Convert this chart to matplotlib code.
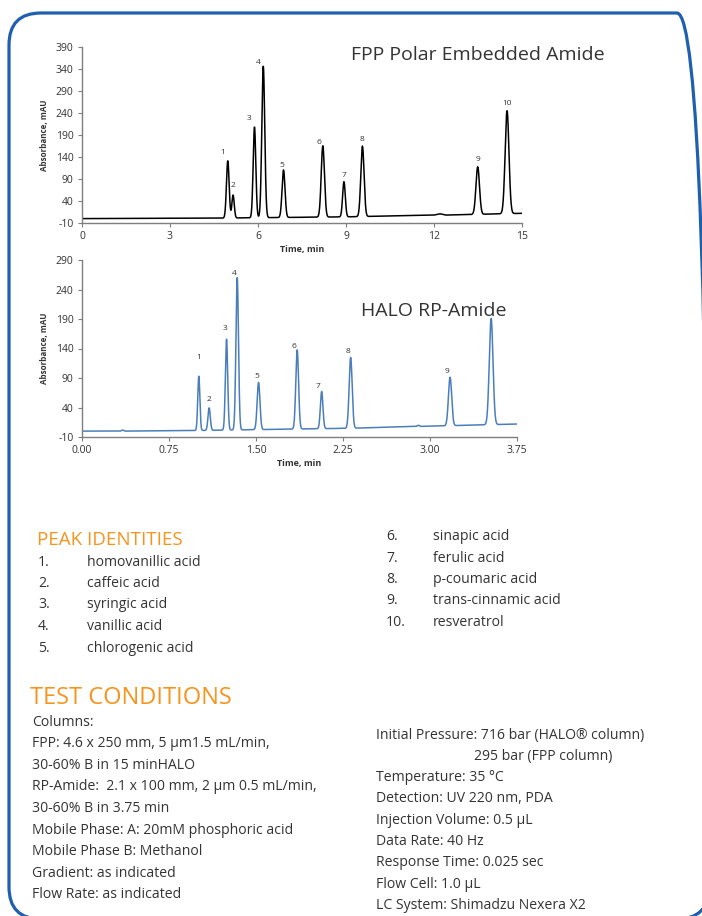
import matplotlib.pyplot as plt
import numpy as np
from matplotlib.patches import FancyBboxPatch

plt.rcParams['font.family'] = ['Open Sans', 'DejaVu Sans']
plt.rcParams['axes.unicode_minus'] = False

# peak tables (time in min, height in mAU)
fpp_times = [4.97, 5.15, 5.88, 6.18, 6.87, 8.21, 8.93, 9.56, 13.49, 14.49]
fpp_heights = [130, 52, 206, 344, 108, 162, 80, 160, 108, 234]
fpp_sigma = [0.045, 0.04, 0.045, 0.05, 0.05, 0.055, 0.045, 0.055, 0.06, 0.065]
fpp_base_t = [0, 4.5, 9.0, 12.0, 12.2, 12.4, 15.0]
fpp_base_v = [0, 1, 4, 8, 11, 8, 12]

halo_times = [1.007, 1.096, 1.246, 1.338, 1.522, 1.855, 2.066, 2.316, 3.173, 3.527]
halo_heights = [92, 38, 154, 258, 80, 134, 63, 120, 82, 180]
halo_sigma = [0.009, 0.01, 0.01, 0.011, 0.012, 0.012, 0.011, 0.013, 0.014, 0.016]
halo_base_t = [0, 0.33, 0.35, 0.37, 1.0, 2.35, 2.88, 2.9, 2.92, 3.75]
halo_base_v = [0, 0, 2, 0, 1, 5, 8, 10, 8, 12]

peak_names = ['homovanillic acid', 'caffeic acid', 'syringic acid', 'vanillic acid',
              'chlorogenic acid', 'sinapic acid', 'ferulic acid', 'p-coumaric acid',
              'trans-cinnamic acid', 'resveratrol']

fpp_xticks = [0, 3, 6, 9, 12, 15]
halo_xticks = [0.00, 0.75, 1.50, 2.25, 3.00, 3.75]
fpp_yticks = list(range(-10, 391, 50))
halo_yticks = list(range(-10, 291, 50))

conditions_left = ['Columns:',
                   'FPP: 4.6 x 250 mm, 5 µm1.5 mL/min,',
                   '30-60% B in 15 minHALO',
                   'RP-Amide:  2.1 x 100 mm, 2 µm 0.5 mL/min,',
                   '30-60% B in 3.75 min',
                   'Mobile Phase: A: 20mM phosphoric acid',
                   'Mobile Phase B: Methanol',
                   'Gradient: as indicated',
                   'Flow Rate: as indicated']
conditions_right = ['Initial Pressure: 716 bar (HALO® column)',
                    '295 bar (FPP column)',
                    'Temperature: 35 °C',
                    'Detection: UV 220 nm, PDA',
                    'Injection Volume: 0.5 µL',
                    'Data Rate: 40 Hz',
                    'Response Time: 0.025 sec',
                    'Flow Cell: 1.0 µL',
                    'LC System: Shimadzu Nexera X2']

W, H = 702, 916
fig = plt.figure(figsize=(W / 100, H / 100), dpi=100)
txt = '#333333'
orange = '#f7941d'
body = 10.1


def px(x, y):
    return x / W, 1 - y / H


def trace(t, times, heights, sigma, bt, bv):
    y = np.interp(t, bt, bv)
    for tp, h, s in zip(times, heights, sigma):
        y = y + h * np.exp(-0.5 * ((t - tp) / s) ** 2)
    return y


def chrom_axes(rect, t, y, color, times, heights, xticks, yticks, xfmt, lab_dx, lab_dy, skip_labels=()):
    ax = fig.add_axes(rect)
    ax.plot(t, y, color=color, lw=1.1)
    ax.set_xlim(xticks[0], xticks[-1])
    ax.set_ylim(yticks[0], yticks[-1])
    ax.set_xticks(xticks)
    ax.set_xticklabels([xfmt % v for v in xticks])
    ax.set_yticks(yticks)
    for s in ['top', 'right']:
        ax.spines[s].set_visible(False)
    for s in ['left', 'bottom']:
        ax.spines[s].set_color('#7f7f7f')
        ax.spines[s].set_linewidth(1.0)
    ax.tick_params(direction='out', length=3, width=0.8, color='#7f7f7f',
                   labelsize=7.5, labelcolor=txt, pad=3)
    ax.set_xlabel('Time, min', fontsize=6.5, fontweight='bold', color=txt, labelpad=2)
    ax.set_ylabel('Absorbance, mAU', fontsize=5.8, fontweight='bold', color=txt, labelpad=5)
    ax.patch.set_alpha(0)
    for i, (tp, h) in enumerate(zip(times, heights)):
        if i in skip_labels:
            continue
        top = np.interp(tp, t, y)
        ax.annotate(str(i + 1), (tp, top), xytext=(lab_dx[i] * 0.72, lab_dy[i] * 0.72),
                    textcoords='offset points', ha='center', va='bottom',
                    fontsize=6, color=txt)
    return ax


t1 = np.linspace(0, 15, 4001)
y1 = trace(t1, fpp_times, fpp_heights, fpp_sigma, fpp_base_t, fpp_base_v)
ax1 = chrom_axes([82 / W, 1 - 223 / H, 440 / W, 176 / H], t1, y1, 'black',
                 fpp_times, fpp_heights, fpp_xticks, fpp_yticks, '%d',
                 [-5, 0, -5, -5, -2, -4, 0, 0, 0, 0],
                 [5, 6, 5, 0, 1, 0, 3, 3, 4, 4])
fig.text(*px(478, 55), 'FPP Polar Embedded Amide', ha='center', va='center',
         fontsize=14, color=txt)

t2 = np.linspace(0, 3.75, 4001)
y2 = trace(t2, halo_times, halo_heights, halo_sigma, halo_base_t, halo_base_v)
ax2 = chrom_axes([82 / W, 1 - 437 / H, 435 / W, 177 / H], t2, y2, '#4a7ebb',
                 halo_times, halo_heights, halo_xticks, halo_yticks, '%.2f',
                 [0, 0, -2, -3, -2, -3, -4, -3, -3, -3],
                 [15, 5, 7, 1, 2, 0, 2, 2, 2, 2], skip_labels=(9,))
fig.text(*px(434, 311), 'HALO RP-Amide', ha='center', va='center',
         fontsize=14, color=txt, zorder=10)

# peak identities
fig.text(*px(37, 540), 'PEAK IDENTITIES', fontsize=13.5, color=orange, va='center')
for i, name in enumerate(peak_names):
    if i < 5:
        nx, tx, yy = 38, 87, 562 + i * 21.5
    else:
        nx, tx, yy = 386, 433, 537 + (i - 5) * 21.3
    fig.text(*px(nx, yy), '%d.' % (i + 1), fontsize=body, color=txt, va='center')
    fig.text(*px(tx, yy), name, fontsize=body, color=txt, va='center')

# test conditions
fig.text(*px(30, 698), 'TEST CONDITIONS', fontsize=17, color=orange, va='center')
for i, line in enumerate(conditions_left):
    fig.text(*px(32, 722 + i * 21.6), line, fontsize=body, color=txt, va='center')
for i, line in enumerate(conditions_right):
    xx = 474 if i == 1 else 376
    fig.text(*px(xx, 735 + i * 21.3), line, fontsize=body, color=txt, va='center')

# rounded blue frame, drawn in pixel units on a full-figure overlay
ov = fig.add_axes([0, 0, 1, 1], zorder=-1)
ov.set_xlim(0, W)
ov.set_ylim(0, H)
ov.axis('off')
frame = FancyBboxPatch((9, H - 919), 700, 906, boxstyle='round,pad=0,rounding_size=32',
                       fill=False, edgecolor='#1f5fb0', linewidth=2.3)
ov.add_patch(frame)

fig.savefig('out.png', dpi=100)
